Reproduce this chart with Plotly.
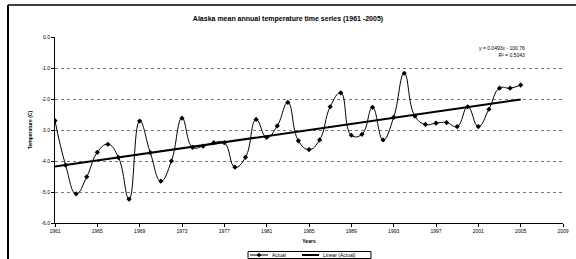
import numpy as np
import plotly.graph_objects as go

years = list(range(1961, 2006))
temps = [-2.70, -4.13, -5.06, -4.51, -3.72, -3.46, -3.89, -5.23, -2.71, -3.73,
         -4.65, -4.00, -2.62, -3.56, -3.52, -3.41, -3.41, -4.20, -3.88, -2.66,
         -3.24, -2.87, -2.11, -3.35, -3.63, -3.32, -2.25, -1.80, -3.17, -3.14,
         -2.27, -3.32, -2.59, -1.17, -2.55, -2.82, -2.78, -2.76, -2.89, -2.25,
         -2.89, -2.33, -1.65, -1.65, -1.55]
x_ticks = list(range(1961, 2010, 4))
y_ticks = [0, -1, -2, -3, -4, -5, -6]
series_names = ["Actual", "Linear (Actual)"]

slope, intercept = np.polyfit(years, temps, 1)
trend = [slope * y + intercept for y in years]
pred = np.array(trend)
obs = np.array(temps)
r2 = 1 - ((obs - pred) ** 2).sum() / ((obs - obs.mean()) ** 2).sum()

fig = go.Figure()
fig.add_trace(go.Scatter(
    x=years, y=temps, name=series_names[0], mode="lines+markers",
    line=dict(color="black", width=1, shape="spline", smoothing=1.3),
    marker=dict(symbol="diamond", size=4, color="black"),
))
fig.add_trace(go.Scatter(
    x=years, y=trend, name=series_names[1], mode="lines",
    line=dict(color="black", width=2),
))

font = "Liberation Sans, Arial, sans-serif"
L, R, T, B, W, H = 55, 13, 37, 36, 576, 259
pw, ph = W - L - R, H - T - B


def px(x):
    return (x - L) / pw


def py(y):
    return (H - B - y) / ph


fig.update_layout(
    width=W, height=H,
    margin=dict(l=L, r=R, t=T, b=B, autoexpand=False),
    paper_bgcolor="white", plot_bgcolor="white",
    font=dict(family=font, size=5, color="black"),
    title=dict(text="<b>Alaska mean annual temperature time series (1961 -2005)</b>",
               x=0.5, xref="container", xanchor="center",
               y=1 - 19 / 259, yref="container", yanchor="middle",
               font=dict(size=7, family=font)),
    showlegend=False,
)
fig.update_xaxes(
    range=[1961, 2009], tickvals=x_ticks, ticktext=[str(v) for v in x_ticks],
    showline=True, linecolor="black", linewidth=1, showgrid=False, zeroline=False,
    ticks="outside", ticklen=3, tickcolor="black", tickfont=dict(size=5),
    title=dict(text="<b>Years</b>", font=dict(size=5), standoff=6),
)
fig.update_yaxes(
    range=[-6, 0], tickvals=y_ticks, ticktext=[f"{v:.1f}" for v in y_ticks],
    showline=True, linecolor="black", linewidth=1, showgrid=True,
    gridcolor="#777777", griddash="dot", gridwidth=1, zeroline=False,
    ticks="outside", ticklen=3, tickcolor="black", tickfont=dict(size=5),
    title=dict(text="<b>Temperature (C)</b>", font=dict(size=5), standoff=8),
)
fig.add_annotation(
    xref="paper", yref="paper", x=0.93, y=0.97, xanchor="right", yanchor="top",
    text=f"y = {slope:.4f}x - {abs(intercept):.2f}<br>R² = {r2:.4f}",
    showarrow=False, align="right", font=dict(size=5),
)

# custom compact legend at the bottom
fig.add_shape(type="rect", xref="paper", yref="paper",
              x0=px(248), x1=px(371), y0=py(251.5), y1=py(258.5),
              line=dict(color="black", width=1), fillcolor="white")
ly = py(255)
fig.add_shape(type="line", xref="paper", yref="paper", x0=px(250), x1=px(268),
              y0=ly, y1=ly, line=dict(color="black", width=1))
fig.add_shape(type="path", xref="paper", yref="paper",
              path=f"M {px(259)} {py(253)} L {px(261)} {ly} L {px(259)} {py(257)} L {px(257)} {ly} Z",
              fillcolor="black", line=dict(color="black", width=0.5))
fig.add_annotation(xref="paper", yref="paper", x=px(270), y=ly, xanchor="left",
                   yanchor="middle", text=series_names[0], showarrow=False,
                   font=dict(size=5))
fig.add_shape(type="line", xref="paper", yref="paper", x0=px(302), x1=px(319),
              y0=ly, y1=ly, line=dict(color="black", width=2))
fig.add_annotation(xref="paper", yref="paper", x=px(321), y=ly, xanchor="left",
                   yanchor="middle", text=series_names[1], showarrow=False,
                   font=dict(size=5))

# scanned page border lines
fig.add_shape(type="line", xref="paper", yref="paper", x0=px(8), x1=px(8),
              y0=py(5), y1=py(262), line=dict(color="black", width=2))
fig.add_shape(type="line", xref="paper", yref="paper", x0=px(8), x1=px(576),
              y0=py(5), y1=py(5), line=dict(color="black", width=1.5))
fig.write_html("out.html", config={"displayModeBar": False},
               post_script="document.body.style.margin='0';document.body.style.overflow='hidden';")
